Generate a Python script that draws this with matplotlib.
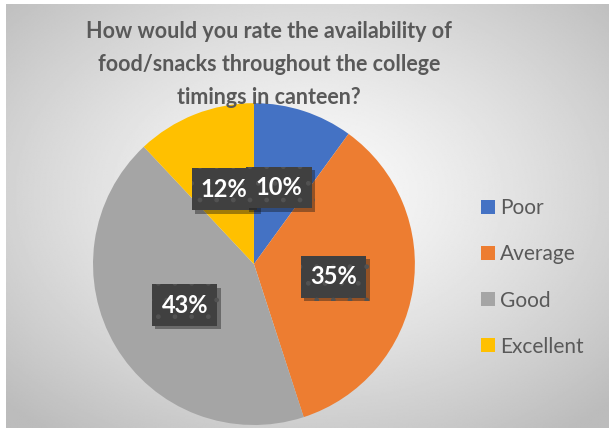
import numpy as np
import matplotlib.pyplot as plt
import matplotlib.patheffects as pe

categories = ["Poor", "Average", "Good", "Excellent"]
shares = [10, 35, 43, 12]
colors = ["#4472C4", "#ED7D31", "#A5A5A5", "#FFC000"]
title = "How would you rate the availability of\nfood/snacks throughout the college\ntimings in canteen?"

plt.rcParams['font.family'] = ['Lato', 'DejaVu Sans']

fig = plt.figure(figsize=(6.09, 4.28), dpi=100)
fig.patch.set_facecolor("white")

# radial grey gradient behind the chart area
bg = fig.add_axes([6 / 609, 0, 1 - 6 / 609, 1 - 4 / 428], zorder=-5)
yy, xx = np.mgrid[0:1:300j, 0:1:400j]
r = np.sqrt(((xx - 0.5) / 0.5) ** 2 + ((yy - 0.45) / 0.5) ** 2) / np.sqrt(2)
shade = 0.985 - 0.25 * np.clip(r, 0, 1) ** 1.3
bg.imshow(shade, cmap="gray", vmin=0, vmax=1, aspect="auto", origin="upper",
          extent=[0, 1, 0, 1], interpolation="bilinear")
bg.axis("off")

ax = fig.add_axes([0.1526, 0.007, 0.5288, 0.752])
wedges, texts, autotexts = ax.pie(shares, colors=colors, startangle=90, counterclock=False,
                                  autopct="%1.0f%%", pctdistance=0.5,
                                  wedgeprops=dict(linewidth=0))
ax.set_xlim(-1, 1)
ax.set_ylim(-1, 1)
ax.set_aspect("equal")

for i, t in enumerate(autotexts):
    t.set_color("white")
    t.set_fontsize(17)
    t.set_fontweight("bold")
    t.set_bbox(dict(boxstyle="square,pad=0.4", facecolor="#404040", edgecolor="#525252",
                    linewidth=0, hatch="."))
    t.get_bbox_patch().set_path_effects([pe.SimplePatchShadow(offset=(2.5, -2.5), alpha=0.4),
                                         pe.Normal()])
    t.set_zorder(10 if i == 0 else 5)

fig.text(269 / 609, 1 - 21 / 428, title, ha="center", va="top", fontsize=15.5,
         fontweight="bold", color="#595959", linespacing=1.7)

fig.legend(wedges, categories, loc="center left", bbox_to_anchor=(481 / 609, 1 - 277.5 / 428),
           frameon=False, fontsize=15, labelcolor="#595959", borderpad=0, borderaxespad=0,
           handlelength=0.68, handleheight=0.68, handletextpad=0.25, labelspacing=1.25)

fig.savefig("out.png", dpi=100)
